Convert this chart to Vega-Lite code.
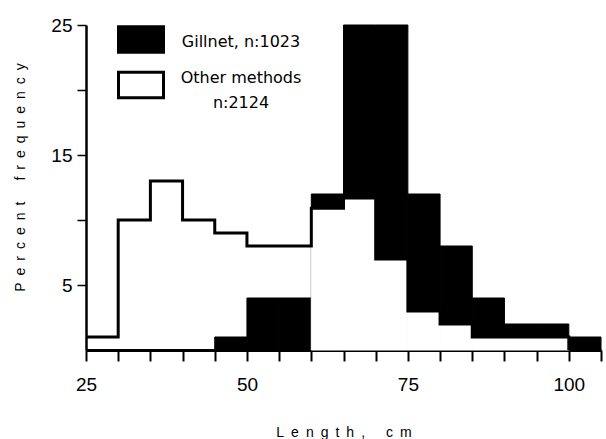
{
  "$schema": "https://vega.github.io/schema/vega-lite/v6.json",
  "width": 515,
  "height": 325,
  "autosize": {"type": "none"},
  "padding": {"left": 86, "top": 25, "right": 5, "bottom": 89},
  "background": "white",
  "config": {"view": {"stroke": null}, "font": "Liberation Sans"},
  "resolve": {"scale": {"x": "shared", "y": "shared"}, "axis": {"x": "independent"}},
  "data": {
    "values": [
      {"bin_start": 25, "bin_end": 30, "gillnet": 0, "other": 1},
      {"bin_start": 30, "bin_end": 35, "gillnet": 0, "other": 10},
      {"bin_start": 35, "bin_end": 40, "gillnet": 0, "other": 13},
      {"bin_start": 40, "bin_end": 45, "gillnet": 0, "other": 10},
      {"bin_start": 45, "bin_end": 50, "gillnet": 1, "other": 9},
      {"bin_start": 50, "bin_end": 55, "gillnet": 4, "other": 8},
      {"bin_start": 55, "bin_end": 60, "gillnet": 4, "other": 8},
      {"bin_start": 60, "bin_end": 65, "gillnet": 12, "other": 10.9},
      {"bin_start": 65, "bin_end": 70, "gillnet": 25, "other": 11.7},
      {"bin_start": 70, "bin_end": 75, "gillnet": 25, "other": 7},
      {"bin_start": 75, "bin_end": 80, "gillnet": 12, "other": 3},
      {"bin_start": 80, "bin_end": 85, "gillnet": 8, "other": 2},
      {"bin_start": 85, "bin_end": 90, "gillnet": 4, "other": 1},
      {"bin_start": 90, "bin_end": 95, "gillnet": 2, "other": 1},
      {"bin_start": 95, "bin_end": 100, "gillnet": 2, "other": 1},
      {"bin_start": 100, "bin_end": 105, "gillnet": 1, "other": 0}
    ]
  },
  "layer": [
    {
      "transform": [{"filter": "datum.gillnet > 0"}],
      "mark": {"type": "rect", "stroke": "black", "strokeWidth": 1},
      "encoding": {
        "x": {
          "field": "bin_start",
          "type": "quantitative",
          "scale": {"domain": [25, 105], "nice": false, "zero": false},
          "axis": {
            "orient": "bottom",
            "values": [25, 50, 75, 100],
            "title": "L\u2002e\u2002n\u2002g\u2002t\u2002h\u2002,\u2002\u2002\u2002c\u2002m",
            "grid": false,
            "domainColor": "black",
            "domainWidth": 3,
            "tickColor": "black",
            "tickWidth": 2,
            "tickSize": 11,
            "labelFont": "Liberation Sans",
            "labelFontSize": 19,
            "labelColor": "black",
            "labelPadding": 14,
            "labelFlush": false,
            "labelOverlap": false,
            "titleFont": "Liberation Sans",
            "titleFontSize": 14,
            "titleFontWeight": "normal",
            "titleColor": "black",
            "titleY": 82,
            "titleBaseline": "middle"
          }
        },
        "x2": {"field": "bin_end"},
        "y": {
          "field": "gillnet",
          "type": "quantitative",
          "scale": {"domain": [0, 25], "nice": false},
          "axis": {
            "values": [5, 10, 15, 20, 25],
            "labelExpr": "datum.value % 10 == 5 ? datum.label : ''",
            "title": "P\u2002e\u2002r\u2002c\u2002e\u2002n\u2002t\u2002\u2002\u2002f\u2002r\u2002e\u2002q\u2002u\u2002e\u2002n\u2002c\u2002y",
            "grid": false,
            "domainColor": "black",
            "domainWidth": 2.5,
            "tickColor": "black",
            "tickWidth": 1.5,
            "tickSize": 9,
            "labelFont": "Liberation Sans",
            "labelFontSize": 19,
            "labelColor": "black",
            "labelPadding": 5,
            "labelOverlap": false,
            "titleFont": "Liberation Sans",
            "titleFontSize": 14,
            "titleFontWeight": "normal",
            "titleColor": "black",
            "titleX": -66,
            "titleY": 152,
            "titleAngle": 270,
            "titleAlign": "center",
            "titleBaseline": "middle"
          }
        },
        "y2": {"datum": 0},
        "color": {
          "datum": "Gillnet, n:1023",
          "type": "nominal",
          "scale": {
            "domain": ["Gillnet, n:1023", "Other methods, n:2124"],
            "range": ["black", "white"]
          },
          "legend": {
            "orient": "none",
            "legendX": 31,
            "legendY": -5.5,
            "title": null,
            "padding": 0,
            "symbolType": "M-1,-0.745L1,-0.745L1,0.389L-1,0.389Z",
            "symbolSize": 2025,
            "symbolStrokeColor": "black",
            "symbolStrokeWidth": 3,
            "symbolOpacity": 1,
            "labelFont": "DejaVu Sans",
            "labelFontSize": 16,
            "labelColor": "black",
            "labelAlign": "center",
            "labelOffset": 76,
            "labelLimit": 300,
            "rowPadding": 6.5,
            "labelExpr": "datum.label == 'Other methods, n:2124' ? ['Other methods', 'n:2124'] : datum.label",
            "encode": {
              "labels": {"update": {"lineHeight": {"value": 25}, "dy": {"signal": "datum.index == 1 ? -11 : -1.5"}}},
              "symbols": {"update": {"stroke": {"value": "black"}, "strokeWidth": {"value": 3}}}
            }
          }
        }
      }
    },
    {
      "transform": [{"filter": "datum.other <= datum.gillnet && datum.other > 0"}],
      "mark": {"type": "rect", "stroke": "white", "strokeWidth": 1},
      "encoding": {
        "x": {"field": "bin_start", "type": "quantitative", "axis": null},
        "x2": {"field": "bin_end"},
        "y": {"field": "other", "type": "quantitative"},
        "y2": {"datum": 0},
        "color": {"datum": "Other methods, n:2124", "type": "nominal"}
      }
    },
    {
      "mark": {"type": "line", "interpolate": "step-after", "color": "black", "strokeWidth": 3},
      "encoding": {
        "x": {
          "field": "bin_start",
          "type": "quantitative",
          "axis": {
            "orient": "bottom",
            "values": [30, 35, 40, 45, 55, 60, 65, 70, 80, 85, 90, 95, 105],
            "labels": false,
            "domain": false,
            "grid": false,
            "tickColor": "black",
            "tickWidth": 2,
            "tickSize": 11,
            "title": null
          }
        },
        "y": {"field": "other", "type": "quantitative"}
      }
    }
  ]
}
